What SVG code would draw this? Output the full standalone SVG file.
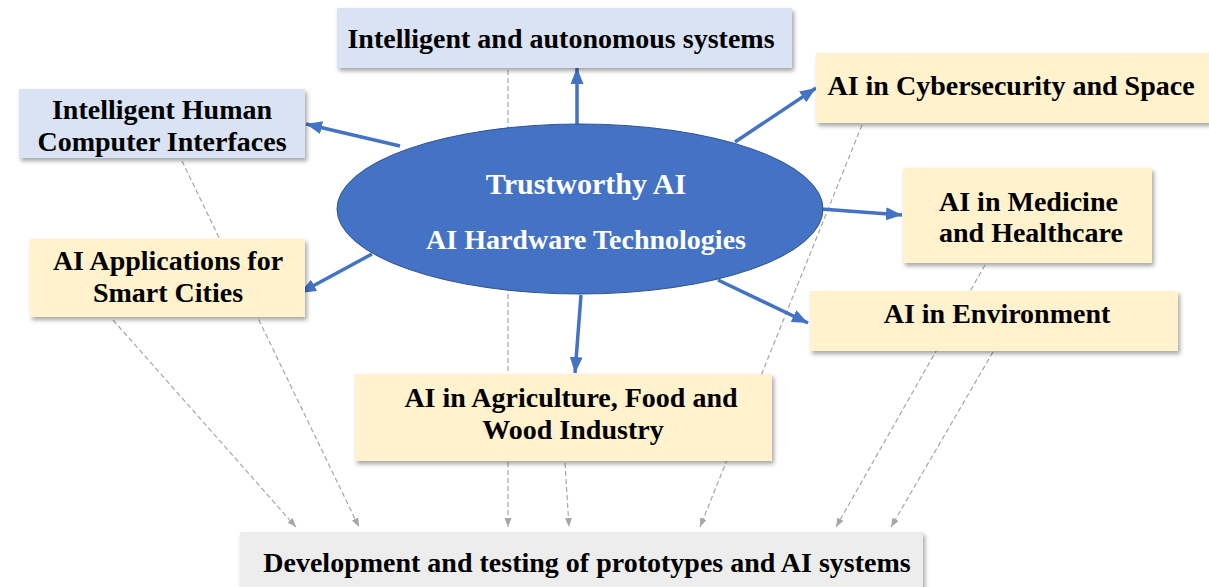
<svg xmlns="http://www.w3.org/2000/svg" width="1209" height="587" viewBox="0 0 1209 587">
<style>
.bx{stroke:none;filter:url(#sh)}
.blue{fill:#dae3f3}
.yel{fill:#fff2cc}
.gry{fill:#ededed}
.t{font-family:"Liberation Serif","Times New Roman",serif;font-weight:bold;font-size:28px;fill:#000}
.w{fill:#fff}
.c{text-anchor:middle}
.dash{stroke:#a6a6a6;stroke-width:1.2;stroke-dasharray:5 3;fill:none;marker-end:url(#ga)}
.arr{stroke:#4472c4;stroke-width:3.5;fill:none;marker-end:url(#ba)}
</style>
<defs>
<filter id="sh" x="-10%" y="-20%" width="120%" height="150%">
<feDropShadow dx="2" dy="3" stdDeviation="2" flood-color="#000" flood-opacity="0.35"/>
</filter>
<marker id="ga" markerUnits="userSpaceOnUse" markerWidth="9" markerHeight="7" refX="9" refY="3.5" orient="auto">
<path d="M0,0 L9,3.5 L0,7 z" fill="#a6a6a6"/>
</marker>
<marker id="ba" markerUnits="userSpaceOnUse" markerWidth="16" markerHeight="13" refX="16" refY="6.5" orient="auto">
<path d="M0,0 L16,6.5 L0,13 z" fill="#4472c4"/>
</marker>
</defs>
<rect width="1209" height="587" fill="#fff"/>
<g id="connectors">
<line class="dash" x1="113" y1="320" x2="296" y2="527"/>
<line class="dash" x1="182" y1="161" x2="359" y2="527"/>
<line class="dash" x1="508" y1="70" x2="508" y2="527"/>
<line class="dash" x1="565" y1="463" x2="569" y2="527"/>
<line class="dash" x1="862" y1="125" x2="700" y2="527"/>
<line class="dash" x1="985" y1="265" x2="836" y2="527"/>
<line class="dash" x1="993" y1="352" x2="891" y2="527"/>
<line class="arr" x1="577" y1="125" x2="577" y2="68"/>
<line class="arr" x1="400" y1="146" x2="306" y2="124"/>
<line class="arr" x1="372" y1="254" x2="300" y2="293"/>
<line class="arr" x1="735" y1="142" x2="816" y2="88"/>
<line class="arr" x1="821" y1="209" x2="902" y2="215"/>
<line class="arr" x1="718" y1="280" x2="808" y2="323"/>
<line class="arr" x1="581" y1="295" x2="575" y2="373"/>
</g>
<g id="autonomous">
<rect class="bx blue" x="337" y="8" width="455" height="60"/>
<text class="t c" x="561" y="48">Intelligent and autonomous systems</text>
</g>
<g id="hci">
<rect class="bx blue" x="19" y="89" width="286" height="69"/>
<text class="t c" x="162" y="119">Intelligent Human</text>
<text class="t c" x="162" y="151">Computer Interfaces</text>
</g>
<g id="cyber">
<rect class="bx yel" x="816" y="53" width="396" height="70"/>
<text class="t c" x="1011" y="95">AI in Cybersecurity and Space</text>
</g>
<g id="medicine">
<rect class="bx yel" x="903" y="168" width="249" height="95"/>
<text class="t" x="939" y="211">AI in Medicine</text>
<text class="t" x="939" y="242">and Healthcare</text>
</g>
<g id="smartcities">
<rect class="bx yel" x="30" y="239" width="275" height="78"/>
<text class="t c" x="168" y="270">AI Applications for</text>
<text class="t c" x="168" y="302">Smart Cities</text>
</g>
<g id="environment">
<rect class="bx yel" x="810" y="291" width="368" height="60"/>
<text class="t c" x="997" y="323">AI in Environment</text>
</g>
<g id="agriculture">
<rect class="bx yel" x="355" y="374" width="417" height="87"/>
<text class="t c" x="571" y="407">AI in Agriculture, Food and</text>
<text class="t c" x="573" y="439">Wood Industry</text>
</g>
<g id="development">
<rect class="bx gry" x="240" y="532" width="683" height="62"/>
<text class="t c" x="587" y="572">Development and testing of prototypes and AI systems</text>
</g>
<g id="center">
<ellipse cx="580" cy="209" rx="243" ry="85" fill="#4472c4" stroke="#2f528f" stroke-width="1"/>
<text class="t w c" x="586" y="194" style="font-size:30px">Trustworthy AI</text>
<text class="t w c" x="586" y="249">AI Hardware Technologies</text>
</g>
</svg>
